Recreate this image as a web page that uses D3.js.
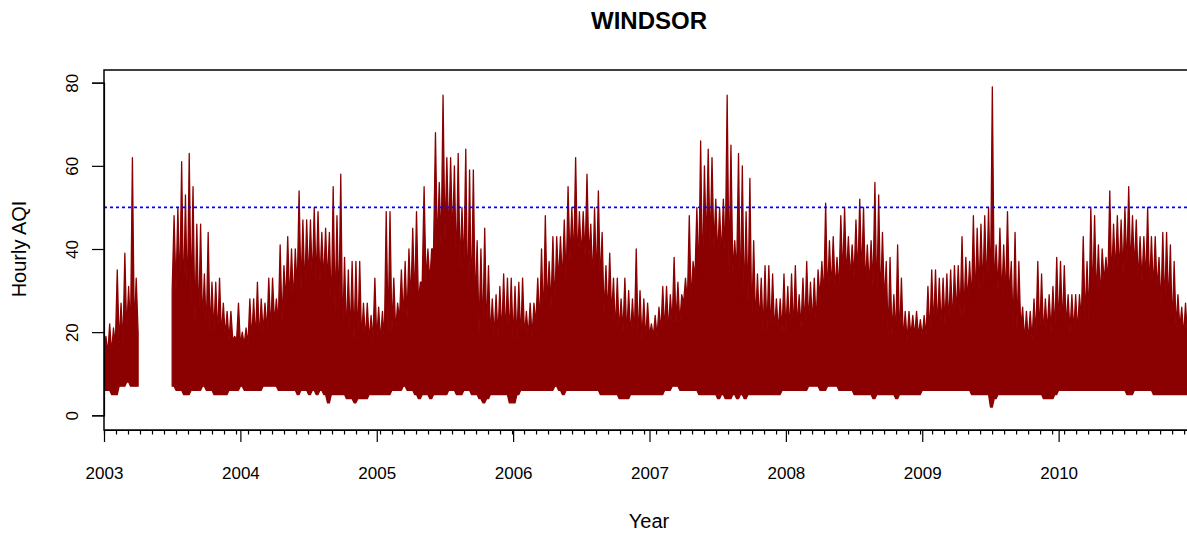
<!DOCTYPE html>
<html><head><meta charset="utf-8">
<script src="https://cdn.jsdelivr.net/npm/d3@7"></script>
<style>
html,body{margin:0;padding:0;background:#fff;}
svg{display:block;font-family:"Liberation Sans",Arial,Helvetica,sans-serif;}
</style></head>
<body>
<svg id="chart" width="1187" height="535"></svg>
<script>
// ---- data: Windsor hourly AQI, summarised per ~10-day bin (36 bins / year) ----
const years = [2003, 2004, 2005, 2006, 2007, 2008, 2009, 2010];
const yTicks = [0, 20, 40, 60, 80];
const threshold = 50;
const N = null;
// peak (max) hourly AQI in each bin
const max2003 = [19,22,21,35,27,39,31,62,33, N,N,N,N,N,N,N,N,N, 48,50,61,53,63,55,46,46,34,44,32,32,33,27,25,25,19,27];
const max2004 = [20,21,28,28,32,28,27,33,33,28,41,36,43,40,40,54,47,47,47,50,49,44,45,44,55,48,58,38,35,37,37,37,27,27,24,33];
const max2005 = [26,25,49,49,33,27,35,37,40,45,49,32,55,40,40,68,56,77,62,62,60,63,50,64,59,59,42,40,45,36,28,29,31,34,33,33];
const max2006 = [31,32,33,25,27,27,33,40,48,37,43,43,43,47,55,50,62,49,49,58,46,50,54,44,36,39,33,33,28,33,30,28,40,30,28,27];
const max2007 = [22,24,26,31,31,29,38,32,29,33,48,37,50,66,60,64,62,52,50,52,77,65,42,63,60,49,57,42,34,33,36,36,34,28,28,34];
const max2008 = [31,34,36,29,33,37,32,33,35,37,51,42,43,38,48,50,43,41,47,52,50,41,42,56,53,44,37,38,29,41,33,25,25,24,25,23];
const max2009 = [24,31,35,35,33,33,34,35,36,36,43,38,37,48,45,46,48,50,79,41,45,41,49,37,44,37,26,25,25,28,37,34,28,29,31,38];
const max2010 = [37,36,29,29,29,29,43,37,50,48,41,40,38,54,46,48,47,50,55,48,47,43,43,50,43,43,38,44,44,41,37,29,26,27,27,25];
// lowest hourly AQI in each bin
const min2003 = [6,6,5,5,7,7,8,7,7, N,N,N,N,N,N,N,N,N, 7,6,6,5,5,6,6,6,7,6,6,5,5,5,5,6,6,6];
const min2004 = [7,6,6,6,6,6,7,7,7,7,6,6,6,6,6,5,6,6,5,6,5,6,5,3,5,5,5,5,4,4,3,4,4,4,5,5];
const min2005 = [5,5,5,5,6,6,6,7,6,6,5,4,5,5,4,5,5,5,5,6,6,5,5,6,6,5,5,4,3,4,5,5,5,5,5,3];
const min2006 = [3,5,6,6,6,6,6,6,6,6,6,7,6,5,6,6,6,6,6,6,6,6,6,5,5,5,5,5,4,4,4,5,5,5,5,5];
const min2007 = [5,5,5,5,6,6,7,7,6,6,6,6,6,5,5,5,5,5,4,5,4,4,5,4,5,4,5,5,5,5,5,5,5,5,5,6];
const min2008 = [6,6,6,6,6,6,7,7,7,6,6,7,7,7,6,6,6,6,5,5,5,5,5,4,5,5,5,5,5,4,5,5,5,5,5,5];
const min2009 = [6,6,6,6,6,6,6,6,6,6,6,6,6,5,5,5,5,5,2,4,5,5,5,5,5,5,5,5,5,5,5,5,4,4,4,5];
const min2010 = [6,6,6,6,6,6,6,6,6,6,6,6,6,6,6,6,6,6,5,5,6,6,6,6,6,5,5,5,5,5,5,5,5,5,5,5];
// level up to which the hourly trace is densely filled, per month
const body2003 = [15,17,20,N,N,N,30,27,22,20,19,18];
const body2004 = [17,18,20,22,27,30,32,32,25,19,18,18];
const body2005 = [18,20,23,27,32,40,42,35,26,20,19,19];
const body2006 = [18,19,22,26,32,37,38,32,24,20,19,18];
const body2007 = [19,20,22,27,33,40,38,34,27,22,20,20];
const body2008 = [20,21,22,28,30,33,33,31,27,19,18,19];
const body2009 = [19,21,22,24,27,30,30,28,21,18,19,20];
const body2010 = [21,20,23,28,32,34,35,32,30,26,21,19];

const maxByYear  = [max2003,max2004,max2005,max2006,max2007,max2008,max2009,max2010];
const minByYear  = [min2003,min2004,min2005,min2006,min2007,min2008,min2009,min2010];
const bodyByYear = [body2003,body2004,body2005,body2006,body2007,body2008,body2009,body2010];

const binsPerYear = 36;
const bins = [];
years.forEach((yr, yi) => {
  for (let k = 0; k < binsPerYear; k++) {
    const mx = maxByYear[yi][k], mn = minByYear[yi][k], bd = bodyByYear[yi][Math.floor(k / 3)];
    bins.push({t0: yr + k / binsPerYear, t1: yr + (k + 1) / binsPerYear, tm: yr + (k + 0.5) / binsPerYear,
               max: mx, min: mn, body: (mx == null || bd == null) ? null : Math.min(bd, mx)});
  }
});

// trace outline: each bin rises from its dense level to its peak and back
const trace = [];
bins.forEach((d, i) => {
  if (d.max == null) { trace.push({gap: true}); return; }
  trace.push({t: d.t0, hi: d.body, lo: d.min});
  trace.push({t: d.tm, hi: d.max, lo: d.min});
  const nxt = bins[i + 1];
  if (!nxt || nxt.max == null) trace.push({t: d.t1, hi: d.body, lo: d.min});
});

// ---- layout ----
const svg = d3.select("#chart");
const L = 104, R = 1195, T = 70, B = 430;
const x = d3.scaleLinear().domain([2003, 2011]).range([L, R]);
const y = d3.scaleLinear().domain([0, 80]).range([415.3, 82.7]);
const col = "#8B0000";

svg.append("defs").append("clipPath").attr("id", "clip")
  .append("rect").attr("x", L).attr("y", T).attr("width", R - L).attr("height", B - T);

const g = svg.append("g").attr("clip-path", "url(#clip)");

const area = d3.area()
  .defined(d => !d.gap)
  .x(d => x(d.t))
  .y0(d => y(d.lo))
  .y1(d => y(d.hi))
  .curve(d3.curveLinear);
g.append("path").datum(trace).attr("d", area).attr("fill", col)
  .attr("stroke", col).attr("stroke-width", 1.3).attr("stroke-linejoin", "round");

// threshold line
svg.append("line").attr("x1", L).attr("x2", R).attr("y1", y(threshold)).attr("y2", y(threshold))
  .style("stroke", "#0000FF").style("stroke-width", "1.7px").style("stroke-dasharray", "3,3");

// box
svg.append("rect").attr("x", L).attr("y", T).attr("width", R - L).attr("height", B - T)
  .attr("fill", "none").attr("stroke", "#000").attr("stroke-width", 1.5);

// y axis
const yAxis = svg.append("g").attr("transform", `translate(${L},0)`)
  .call(d3.axisLeft(y).tickValues(yTicks).tickSize(12).tickPadding(14).tickFormat(d3.format("d")));
yAxis.select(".domain").attr("stroke-width", 1.2);
yAxis.selectAll(".tick line").attr("stroke-width", 1.2);
yAxis.selectAll(".tick text")
  .attr("font-size", 17).attr("font-family", "Liberation Sans, Arial, sans-serif").attr("fill", "#000")
  .attr("x", 0).attr("dy", 0)
  .attr("text-anchor", "middle")
  .attr("transform", "translate(-26,0) rotate(-90)");

// x axis: minor ticks
const minorStep = 0.088;
const minorTicks = d3.range(2003 + minorStep, 2011, minorStep);
const xMinor = svg.append("g").attr("transform", `translate(0,${B})`)
  .call(d3.axisBottom(x).tickValues(minorTicks).tickSize(4.5).tickFormat(""));
xMinor.select(".domain").attr("stroke-width", 1.2);
xMinor.selectAll(".tick line").attr("stroke-width", 1.2);
// x axis: years
const xAxis = svg.append("g").attr("transform", `translate(0,${B})`)
  .call(d3.axisBottom(x).tickValues(years).tickSize(12).tickPadding(25).tickFormat(d3.format("d")));
xAxis.select(".domain").remove();
xAxis.selectAll(".tick line").attr("stroke-width", 1.2);
xAxis.selectAll(".tick text").attr("font-size", 17)
  .attr("font-family", "Liberation Sans, Arial, sans-serif").attr("fill", "#000");

// titles
svg.append("text").attr("x", 649).attr("y", 28.5).attr("text-anchor", "middle")
  .attr("font-size", 24).attr("font-weight", "bold").text("WINDSOR");
svg.append("text").attr("x", 649).attr("y", 528).attr("text-anchor", "middle")
  .attr("font-size", 20).text("Year");
svg.append("text").attr("transform", "translate(26,249) rotate(-90)").attr("text-anchor", "middle")
  .attr("font-size", 20).text("Hourly AQI");
</script>
</body></html>
